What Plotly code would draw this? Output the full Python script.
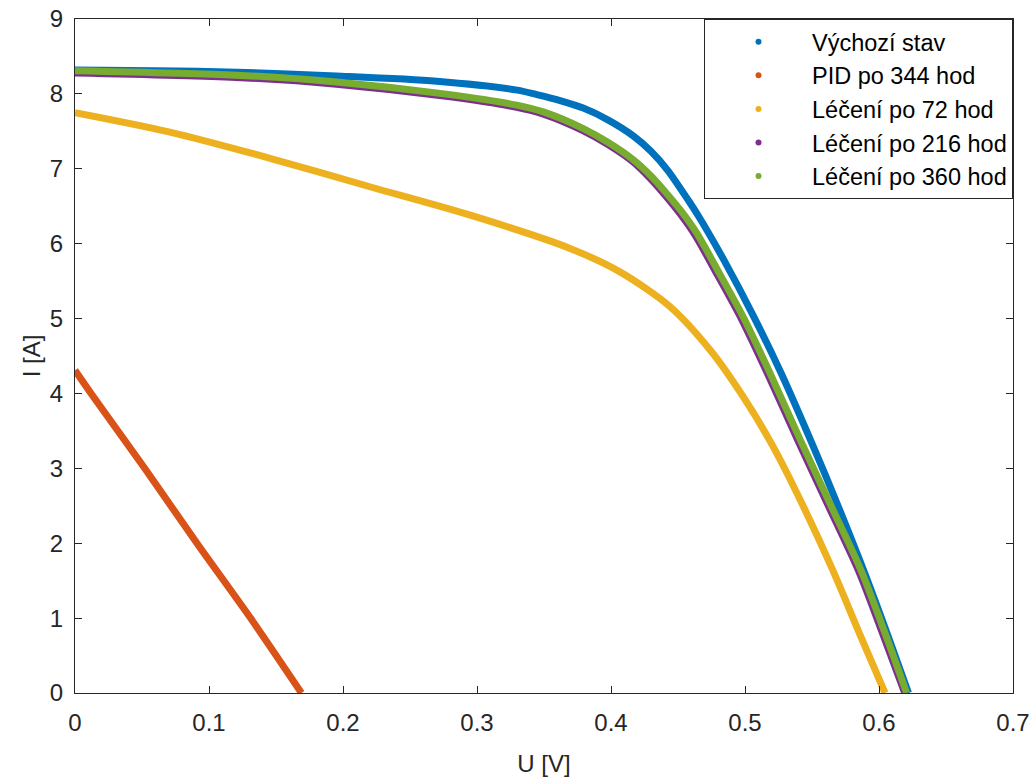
import plotly.graph_objects as go

# I-V measurements of the cell in each state (U in volts, I in amperes)
u_vychozi = [0, 0.06, 0.121, 0.195, 0.27, 0.33, 0.3447, 0.362, 0.3793, 0.398, 0.4173,
             0.43, 0.4423, 0.4577, 0.4656, 0.4843, 0.5067, 0.527, 0.551, 0.5687,
             0.5885, 0.607, 0.622]
i_vychozi = [8.32, 8.31, 8.29, 8.24, 8.17, 8.05, 7.99, 7.91, 7.81, 7.65, 7.43,
             7.23, 6.98, 6.58, 6.36, 5.78, 5.02, 4.27, 3.29, 2.53,
             1.64, 0.75, 0.0]

u_pid344 = [0, 0.012, 0.052, 0.091, 0.131, 0.169]
i_pid344 = [4.31, 4.0, 3.0, 2.0, 1.0, 0.0]

u_lec72 = [0, 0.0709, 0.1455, 0.22, 0.295, 0.369, 0.407, 0.444, 0.474, 0.4985,
           0.521, 0.5425, 0.5655, 0.5865, 0.6045]
i_lec72 = [7.75, 7.49, 7.14, 6.76, 6.38, 5.94, 5.62, 5.16, 4.58, 3.96,
           3.29, 2.53, 1.64, 0.75, 0.0]

u_lec216 = [0, 0.12, 0.195, 0.28, 0.3296, 0.3495, 0.379, 0.398, 0.4166, 0.4288,
            0.4402, 0.4515, 0.4625, 0.4795, 0.4972, 0.5172, 0.54, 0.5619, 0.585,
            0.604, 0.6192]
i_lec216 = [8.28, 8.22, 8.13, 7.96, 7.82, 7.73, 7.51, 7.32, 7.09, 6.88,
            6.65, 6.40, 6.12, 5.58, 5.0, 4.25, 3.35, 2.51, 1.62,
            0.73, 0.0]

u_lec360 = [0, 0.12, 0.195, 0.28, 0.3296, 0.3495, 0.379, 0.398, 0.4166, 0.43,
            0.4415, 0.453, 0.464, 0.481, 0.4987, 0.5187, 0.5415, 0.5634, 0.5865,
            0.6055, 0.6206]
i_lec360 = [8.31, 8.25, 8.16, 7.99, 7.85, 7.76, 7.54, 7.35, 7.12, 6.90,
            6.67, 6.42, 6.14, 5.60, 5.02, 4.27, 3.37, 2.53, 1.64,
            0.75, 0.0]

names = ["Výchozí stav", "PID po 344 hod", "Léčení po 72 hod",
         "Léčení po 216 hod", "Léčení po 360 hod"]
colors = ["#0072BD", "#D95319", "#EDB120", "#7E2F8E", "#77AC30"]
series = [(u_vychozi, i_vychozi), (u_pid344, i_pid344), (u_lec72, i_lec72),
          (u_lec216, i_lec216), (u_lec360, i_lec360)]

FONT = "Liberation Sans, Arial, sans-serif"
INK = "#262626"

fig = go.Figure()
for (u, i), name, col in zip(series, names, colors):
    fig.add_trace(go.Scatter(
        x=u, y=i, mode="lines", showlegend=False,
        line=dict(color=col, width=7, shape="spline", smoothing=0.8),
        hoverinfo="x+y", name=name))
# dot symbols for the legend
for name, col in zip(names, colors):
    fig.add_trace(go.Scatter(
        x=[None], y=[None], mode="markers", name=name,
        marker=dict(color=col, size=6)))

axis_common = dict(
    showgrid=False, zeroline=False, showline=True, linecolor=INK, linewidth=1,
    mirror="ticks", ticks="inside", ticklen=7, tickcolor=INK, tickwidth=1,
    automargin=False,
    tickfont=dict(family=FONT, size=24, color=INK),
)

fig.update_layout(
    width=1035, height=780,
    margin=dict(l=75, r=22, t=19, b=87),
    paper_bgcolor="white", plot_bgcolor="white",
    font=dict(family=FONT, size=24, color=INK),
    xaxis=dict(range=[0, 0.7], tickvals=[0, 0.1, 0.2, 0.3, 0.4, 0.5, 0.6, 0.7],
               ticktext=["0", "0.1", "0.2", "0.3", "0.4", "0.5", "0.6", "0.7"],
               title=dict(text="U [V]", font=dict(family=FONT, size=24, color=INK),
                          standoff=20),
               ticklabelstandoff=8,
               **axis_common),
    yaxis=dict(range=[0, 9], tickvals=list(range(10)),
               title=dict(text="I [A]", font=dict(family=FONT, size=24, color=INK),
                          standoff=2),
               ticklabelstandoff=6,
               **axis_common),
    legend=dict(x=1, y=1, xanchor="right", yanchor="top",
                bgcolor="white", bordercolor=INK, borderwidth=1,
                font=dict(family=FONT, size=23.5, color="#000000"),
                itemwidth=97, tracegroupgap=0),
    showlegend=True,
)

fig.write_html("out.html")
